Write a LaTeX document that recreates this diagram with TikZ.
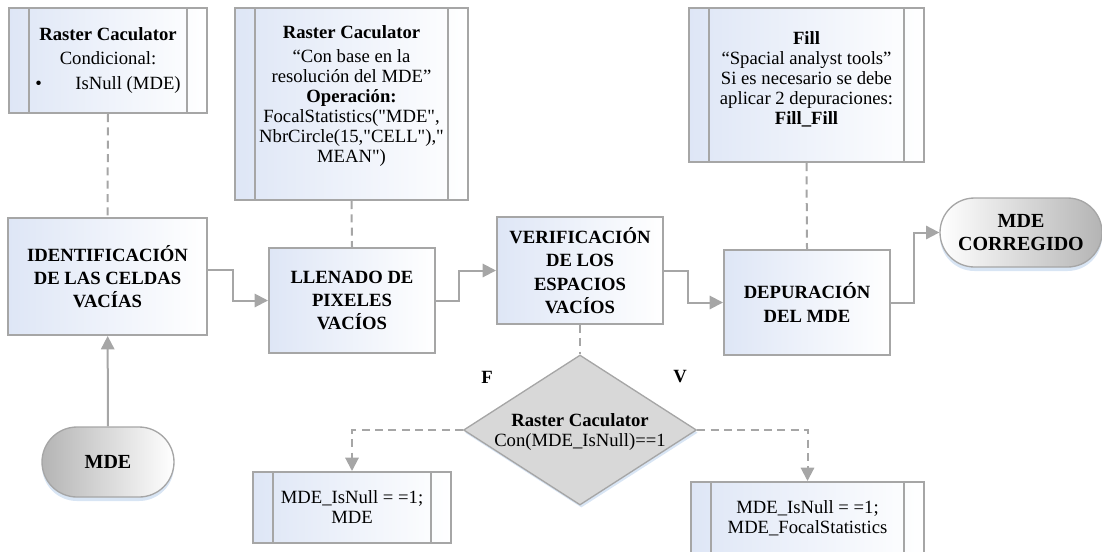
\documentclass[tikz,border=0pt]{standalone}
\usepackage{fontspec}
\setmainfont{Liberation Serif}
\usetikzlibrary{arrows.meta,shapes.geometric,shapes.misc,shadows}
\definecolor{linegray}{RGB}{166,166,166}
\definecolor{boxblue}{RGB}{222,230,246}
\definecolor{termgray}{RGB}{180,180,180}
\definecolor{diamgray}{RGB}{216,216,216}
\definecolor{glow}{RGB}{200,218,240}
\begin{document}
\begin{tikzpicture}[x=0.75pt,y=-0.75pt,
  every node/.style={font=\fontsize{14}{15}\selectfont, align=center, inner sep=0pt},
  paso/.style={draw=linegray, line width=1.5pt, left color=boxblue, right color=white,
    font=\fontsize{14}{17.5}\selectfont\bfseries},
  nota/.style={draw=linegray, line width=1.5pt, left color=boxblue, right color=white,
    path picture={\draw[linegray, line width=1.5pt]
      ([xshift=15pt]path picture bounding box.north west) -- ([xshift=15pt]path picture bounding box.south west)
      ([xshift=-15pt]path picture bounding box.north east) -- ([xshift=-15pt]path picture bounding box.south east);}},
  terminal/.style={rounded rectangle, draw=linegray, line width=1pt,
    font=\fontsize{15}{17.5}\selectfont\bfseries,
    drop shadow={shadow xshift=0pt, shadow yshift=-3pt, fill=glow, opacity=0.7}},
  decision/.style={diamond, draw=linegray, line width=1pt, fill=diamgray,
    drop shadow={shadow xshift=1pt, shadow yshift=-2pt, fill=glow, opacity=0.7}},
  flujo/.style={draw=linegray, line width=1.5pt, -{Triangle[length=10pt,width=10pt]}},
  guia/.style={draw=linegray, line width=1.5pt, dash pattern=on 6pt off 4pt},
  guiaflecha/.style={guia, -{Triangle[length=10pt,width=10pt]}}]
  \useasboundingbox (0,0) rectangle (1102,551);

  \node[nota, minimum width=148.5pt, minimum height=78.75pt] (calcnull) at (108,60.5)
    {\textbf{Raster Caculator}\\[3.5pt]Condicional:\\[3.5pt]\makebox[109pt]{\textbullet\hfill IsNull (MDE)}};
  \node[nota, minimum width=174.75pt, minimum height=144pt] (calcfocal) at (351.5,104)
    {\textbf{Raster Caculator}\\[3pt]“Con base en la\\resolución del MDE”\\\textbf{Operación:}\\FocalStatistics(\textquotedbl MDE\textquotedbl,\\NbrCircle(15,\textquotedbl CELL\textquotedbl),\textquotedbl\\MEAN\textquotedbl)\\\mbox{}};
  \node[nota, minimum width=176.25pt, minimum height=115.5pt] (fill) at (806.5,85)
    {\textbf{Fill}\\“Spacial analyst tools”\\Si es necesario se debe\\aplicar 2 depuraciones:\\\textbf{Fill\_Fill}\\[-5pt]\mbox{}};

  \node[paso, minimum width=149.25pt, minimum height=87.75pt] (ident) at (107.5,276.5) {IDENTIFICACIÓN\\DE LAS CELDAS\\VACÍAS};
  \node[paso, minimum width=124.5pt, minimum height=78.75pt] (llenado) at (352,300.5) {LLENADO DE\\PIXELES\\VACÍOS};
  \node[paso, minimum width=124.5pt, minimum height=80.25pt] (verif) at (580,270.5) {VERIFICACIÓN\\DE LOS\\ESPACIOS\\VACÍOS};
  \node[paso, minimum width=124.5pt, minimum height=78.75pt] (depur) at (807,302.5) {DEPURACIÓN\\DEL MDE};

  \node[terminal, left color=white, right color=termgray, minimum width=121.5pt, minimum height=51.75pt] (corregido) at (1021,232.5) {MDE\\CORREGIDO};
  \node[terminal, left color=termgray, right color=white, minimum width=99pt, minimum height=52.5pt] (mde) at (108,462) {MDE};

  \node[decision, minimum width=174.75pt, minimum height=112.5pt] (cond) at (580,430) {};
  \node (condtxt) at (580,432) {\textbf{Raster Caculator}\\Con(MDE\_IsNull)==1};
  \node[font=\fontsize{14}{15}\selectfont\bfseries] (falso) at (487,377) {F};
  \node[font=\fontsize{14}{15}\selectfont\bfseries] (verdad) at (680,377) {V};

  \node[nota, minimum width=148.5pt, minimum height=53.25pt] (nulo) at (352,507.5) {MDE\_IsNull = =1;\\MDE};
  \node[nota, minimum width=174.75pt, minimum height=67.5pt] (focal) at (807.5,527) {MDE\_IsNull = =1;\\MDE\_FocalStatistics\\\mbox{}};

  \draw[flujo] (mde) -- (ident);
  \draw[flujo] ([yshift=5pt]ident.east) -- ++(25,0) |- (llenado);
  \draw[flujo] (llenado.east) -- ++(23,0) |- (verif);
  \draw[flujo] (verif.east) -- ++(24,0) |- (depur);
  \draw[flujo] (depur.east) -- ++(23,0) |- (corregido);

  \draw[guia] (calcnull.south) -- (ident.north);
  \draw[guia] (calcfocal.south) -- (llenado.north);
  \draw[guia] (fill.south) -- (depur.north);
  \draw[guia] (verif.south) -- (cond.north);
  \draw[guiaflecha] (cond.west) -| (nulo.north);
  \draw[guiaflecha] (cond.east) -| (focal.north);
\end{tikzpicture}
\end{document}
